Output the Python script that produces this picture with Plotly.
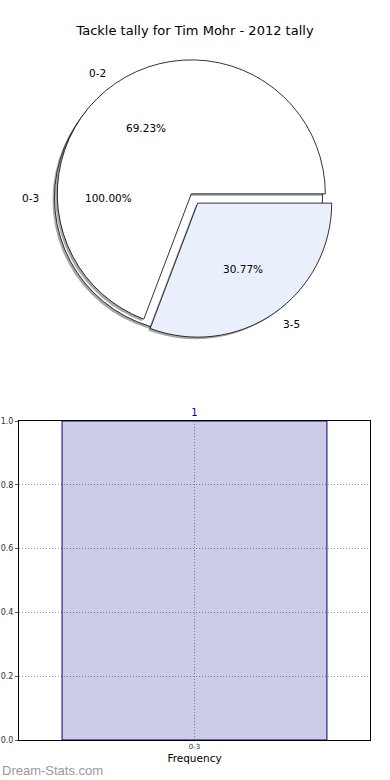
import plotly.graph_objects as go
import math

# ---------------- data ----------------
title_text = "Tackle tally for Tim Mohr - 2012 tally"
base_labels = ["0-3"]
base_values = [1]
split_labels = ["0-2", "3-5"]
split_values = [9, 4]
split_colors = ["#ffffff", "#e9effb"]
bar_categories = ["0-3"]
bar_values = [1]
y_ticks = [0.0, 0.2, 0.4, 0.6, 0.8, 1.0]
watermark = "Dream-Stats.com"

W, H = 390, 780
FONT = "DejaVu Sans"

# pie geometry (pixels)
R = 134
PULL = 0.042
base_c = (188.5, 198.0)
split_c = (194.5, 198.5)
shadow_off = (-2, 2)
SHADOW = "rgba(60,60,60,0.45)"


def dom(cx, cy, half):
    return dict(x=[(cx - half) / W, (cx + half) / W],
                y=[1 - (cy + half) / H, 1 - (cy - half) / H])


def start_rotation(values):
    # first slice starts at 3 o'clock and runs counterclockwise (matplotlib style)
    return 90 - 360.0 * values[0] / sum(values)


fig = go.Figure()

common = dict(sort=False, direction="counterclockwise",
              textinfo="none", hoverinfo="skip", showlegend=False)

# shadow of base pie
fig.add_trace(go.Pie(labels=base_labels, values=base_values, rotation=90,
                     marker=dict(colors=[SHADOW], line=dict(width=0)),
                     domain=dom(base_c[0] + shadow_off[0], base_c[1] + shadow_off[1], R),
                     **common))
# base pie
fig.add_trace(go.Pie(labels=base_labels, values=base_values, rotation=90,
                     marker=dict(colors=["#ffffff"], line=dict(color="black", width=0.8)),
                     domain=dom(base_c[0], base_c[1], R), **common))
# shadow of split pie
fig.add_trace(go.Pie(labels=split_labels, values=split_values,
                     rotation=start_rotation(split_values),
                     pull=[PULL] * len(split_values),
                     marker=dict(colors=[SHADOW] * len(split_values), line=dict(width=0)),
                     domain=dom(split_c[0] + shadow_off[0], split_c[1] + shadow_off[1], R * (1 + PULL)),
                     **common))
# split pie
fig.add_trace(go.Pie(labels=split_labels, values=split_values,
                     rotation=start_rotation(split_values),
                     pull=[PULL] * len(split_values),
                     marker=dict(colors=split_colors, line=dict(color="black", width=0.8)),
                     domain=dom(split_c[0], split_c[1], R * (1 + PULL)),
                     **common))

annotations = []


def pie_texts(labels, values, center, pull):
    total = sum(values)
    start = 0.0
    for lab, v in zip(labels, values):
        frac = v / total
        mid = math.radians(start + frac * 180.0)
        start += frac * 360.0
        ca, sa = math.cos(mid), math.sin(mid)
        cx = center[0] + pull * R * ca
        cy = center[1] - pull * R * sa
        # percentage
        px, py = cx + 0.6 * R * ca, cy - 0.6 * R * sa
        annotations.append(dict(x=px / W, y=1 - py / H, xref="paper", yref="paper",
                                text=f"{frac * 100:.2f}%", showarrow=False,
                                xanchor="center", yanchor="middle",
                                font=dict(family=FONT, size=10.5, color="black")))
        lx, ly = cx + 1.1 * R * ca, cy - 1.1 * R * sa
        annotations.append(dict(x=lx / W, y=1 - ly / H, xref="paper", yref="paper",
                                text=lab, showarrow=False,
                                xanchor="left" if ca > 0 else "right", yanchor="middle",
                                font=dict(family=FONT, size=10.5, color="black")))


pie_texts(base_labels, base_values, base_c, 0)
pie_texts(split_labels, split_values, split_c, PULL)

# ---------------- bar chart ----------------
fig.add_trace(go.Bar(x=bar_categories, y=bar_values, width=0.8,
                     marker=dict(color="rgba(0,0,128,0.2)", line=dict(color="#000080", width=1)),
                     text=[str(v) for v in bar_values], textposition="outside",
                     textfont=dict(family=FONT, size=10, color="#0000bb"),
                     cliponaxis=False, hoverinfo="skip", showlegend=False))

annotations.append(dict(x=0, y=1 - 770 / H, xref="paper", yref="paper",
                        text=watermark, showarrow=False, xanchor="left", yanchor="middle",
                        font=dict(family="Liberation Sans", size=13, color="#999999")))

fig.update_layout(
    width=W, height=H,
    margin=dict(l=0, r=0, t=0, b=0, autoexpand=False),
    paper_bgcolor="white", plot_bgcolor="white",
    showlegend=False,
    title=dict(text=title_text, x=0.5, xanchor="center", y=1 - 30 / H, yanchor="middle",
               yref="container", font=dict(family=FONT, size=13, color="black")),
    annotations=annotations,
    xaxis=dict(domain=[19 / W, 370 / W], range=[-0.53, 0.53], type="category",
               automargin=False,
               showline=True, mirror=True, linecolor="black", linewidth=1,
               showgrid=True, gridcolor="#999999", griddash="1px,2px", gridwidth=1,
               ticks="", tickfont=dict(family=FONT, size=7, color="#333"),
               title=dict(text="Frequency", font=dict(family=FONT, size=10.5, color="black"), standoff=4),
               zeroline=False, fixedrange=True),
    yaxis=dict(domain=[1 - 740 / H, 1 - 421 / H], range=[0, 1],
               automargin=False,
               tickvals=y_ticks, tickformat=".1f",
               showline=True, mirror=True, linecolor="black", linewidth=1,
               showgrid=True, gridcolor="#999999", griddash="1px,2px", gridwidth=1,
               ticks="outside", ticklen=3, tickcolor="#555",
               tickfont=dict(family=FONT, size=8, color="#333"),
               zeroline=False, fixedrange=True),
)

fig.write_html("out.html", config={"displayModeBar": False},
               post_script="document.body.style.margin='0px';document.body.style.overflow='hidden';")
